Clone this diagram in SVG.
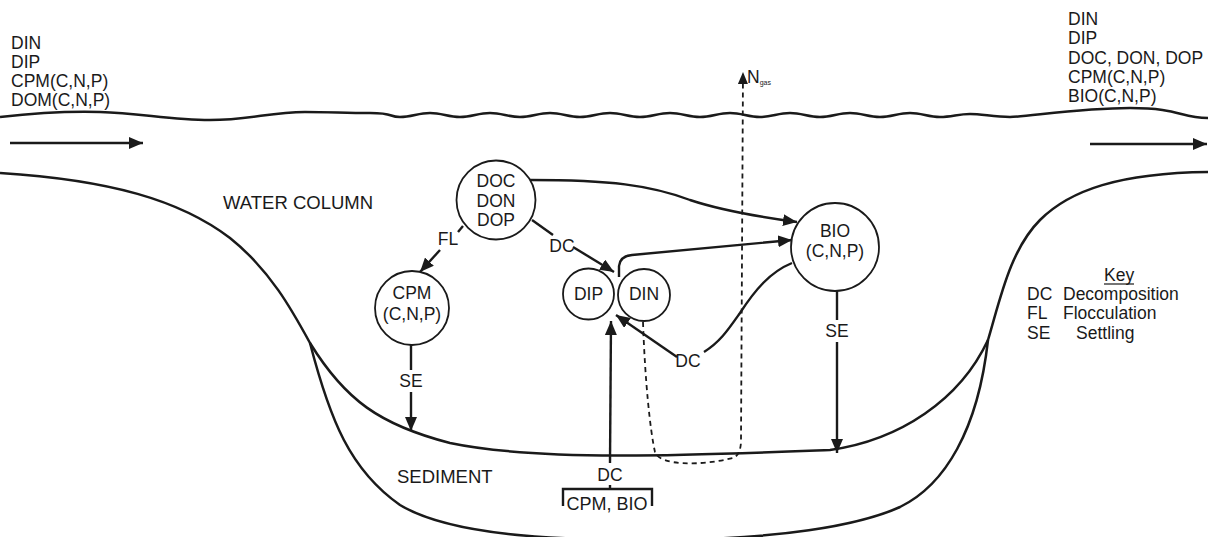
<svg xmlns="http://www.w3.org/2000/svg" width="1208" height="537" viewBox="0 0 1208 537">
<defs>
<style>
text{font-family:"Liberation Sans",Arial,sans-serif;font-size:17.5px;fill:#1a1a1a}
.mid{text-anchor:middle}
.big{font-size:18.5px}
.ln{fill:none;stroke:#1a1a1a;stroke-width:2.5}
.cn{fill:none;stroke:#1a1a1a;stroke-width:2.4}
.nd{fill:#fff;stroke:#1a1a1a;stroke-width:1.8}
.ds{fill:none;stroke:#1a1a1a;stroke-width:1.8;stroke-dasharray:5 4}
</style>
<marker id="ah" viewBox="0 0 14 12" refX="14" refY="6" markerWidth="14" markerHeight="12" markerUnits="userSpaceOnUse" orient="auto">
<path d="M0,0 L14,6 L0,12 z" fill="#1a1a1a"/>
</marker>
<marker id="ahs" viewBox="0 0 12 10" refX="12" refY="5" markerWidth="12" markerHeight="10" markerUnits="userSpaceOnUse" orient="auto">
<path d="M0,0 L12,5 L0,10 z" fill="#1a1a1a"/>
</marker>
</defs>
<rect width="1208" height="537" fill="#fff"/>

<g id="landscape">
<path class="ln" stroke-width="1.8" d="M0,117 C35,113 65,111 100,112 C140,113 170,120 210,120 C250,120 270,112 305,112 C330,112 345,113 370,113 S388,117 400,117 S418,113 430,113 S448,117 460,117 S478,113 490,113 S508,117 520,117 S538,113 550,113 S568,117 580,117 S598,113 610,113 S628,117 640,117 S658,113 670,113 S688,117 700,117 S718,113 730,113 S748,117 760,117 S778,113 790,113 S808,117 820,117 S838,113 850,113 S868,117 880,117 S898,113 910,113 S928,117 940,117 S958,114 970,114 S994,117 1010,117 S1080,108 1130,108 S1180,118 1208,118"/>
<path class="ln" d="M0,173 C110,180 180,200 230,238 C270,270 292,310 310,343 C345,400 380,425 450,443 C540,462 700,455 830,450 C900,440 960,400 988,340 C1000,300 1010,250 1040,220 C1070,190 1120,173 1208,172"/>
<path class="ln" d="M310,343 C330,420 350,470 400,505 C450,535 550,540 650,540 C780,540 860,525 900,507 C945,485 978,430 988,340"/>
</g>

<g id="flow-arrows">
<line class="ln" x1="10" y1="143" x2="143" y2="143" marker-end="url(#ah)"/>
<line class="ln" x1="1090" y1="144" x2="1207" y2="144" marker-end="url(#ah)"/>
</g>

<g id="inflow-labels">
<text x="11" y="48.5">DIN</text>
<text x="11" y="67.5">DIP</text>
<text x="11" y="86.5">CPM(C,N,P)</text>
<text x="11" y="105.5">DOM(C,N,P)</text>
</g>
<g id="outflow-labels">
<text x="1068" y="25">DIN</text>
<text x="1068" y="44">DIP</text>
<text x="1068" y="63.5">DOC, DON, DOP</text>
<text x="1068" y="83">CPM(C,N,P)</text>
<text x="1068" y="102">BIO(C,N,P)</text>
</g>

<g id="zone-labels">
<text class="big" x="223" y="209">WATER COLUMN</text>
<text class="big" x="397" y="483">SEDIMENT</text>
</g>

<g id="connectors">
<path class="cn" d="M530,180 C610,180 650,185 690,200 C720,210 760,217 797,222" marker-end="url(#ah)"/>
<path class="cn" d="M619,277 L619,266 Q620,256 632,255 L792,240" marker-end="url(#ah)"/>
<line class="cn" x1="532" y1="220" x2="553" y2="235"/>
<line class="cn" x1="573" y1="247" x2="614" y2="272" marker-end="url(#ah)"/>
<line class="cn" x1="463" y1="226" x2="458" y2="232"/>
<line class="cn" x1="440" y1="250" x2="420" y2="272" marker-end="url(#ah)"/>
<line class="cn" x1="411" y1="345" x2="411" y2="370"/>
<line class="cn" x1="411" y1="392" x2="411" y2="431" marker-end="url(#ah)"/>
<line class="cn" x1="837" y1="291" x2="837" y2="320"/>
<line class="cn" x1="837" y1="342" x2="837" y2="453" marker-end="url(#ah)"/>
<path class="cn" d="M792,263 C770,272 755,290 740,313 C728,330 720,342 704,352"/>
<line class="cn" x1="677" y1="357" x2="616" y2="315" marker-end="url(#ah)"/>
<line class="cn" x1="610" y1="463" x2="611" y2="321" marker-end="url(#ah)"/>
<path class="ds" d="M643,322 C645,380 650,430 655,452 C660,466 700,466 733,458 Q741,455 741,440 L743,72" marker-end="url(#ahs)"/>
<path class="cn" d="M563,506 L563,489 L652,489 L652,506 M610,485 L610,489" stroke-width="2"/>
</g>

<g id="connector-labels">
<text class="mid" x="448" y="245">FL</text>
<text class="mid" x="562" y="252">DC</text>
<text class="mid" x="688" y="367">DC</text>
<text class="mid" x="411" y="387">SE</text>
<text class="mid" x="837" y="337">SE</text>
<text class="mid" x="610" y="481">DC</text>
<text x="607" y="510" class="mid" style="font-size:18px">CPM, BIO</text>
<text x="747" y="83">N<tspan font-size="7" dy="2">gas</tspan></text>
</g>

<g id="node-doc">
<circle class="nd" cx="496" cy="200" r="39.5"/>
<text class="mid" x="496" y="187">DOC</text>
<text class="mid" x="496" y="206.5">DON</text>
<text class="mid" x="496" y="225.5">DOP</text>
</g>
<g id="node-cpm">
<circle class="nd" cx="412" cy="308" r="37"/>
<text class="mid" x="412" y="299">CPM</text>
<text class="mid" x="412" y="320">(C,N,P)</text>
</g>
<g id="node-dip">
<circle class="nd" cx="588.5" cy="294" r="25.5"/>
<text class="mid" x="588.5" y="300">DIP</text>
</g>
<g id="node-din">
<circle class="nd" cx="644" cy="295" r="26"/>
<text class="mid" x="644" y="300">DIN</text>
</g>
<g id="node-bio">
<circle class="nd" cx="835" cy="247" r="44"/>
<text class="mid" x="835" y="237">BIO</text>
<text class="mid" x="835" y="257">(C,N,P)</text>
</g>

<g id="key">
<text x="1104" y="281">Key</text>
<line x1="1104" y1="284" x2="1134" y2="284" stroke="#1a1a1a" stroke-width="1.2"/>
<text x="1027" y="300">DC</text>
<text x="1063" y="300">Decomposition</text>
<text x="1027" y="319">FL</text>
<text x="1063" y="319">Flocculation</text>
<text x="1027" y="339">SE</text>
<text x="1076" y="339">Settling</text>
</g>
</svg>
